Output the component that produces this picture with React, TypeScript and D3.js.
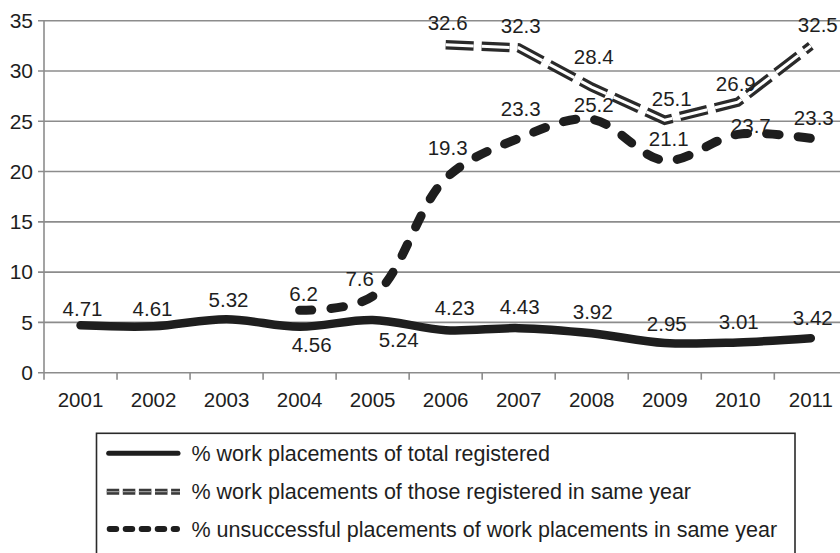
import React from "react";
import * as d3 from "d3";

// Years on the category axis
const years = ["2001", "2002", "2003", "2004", "2005", "2006", "2007", "2008", "2009", "2010", "2011"];

// % work placements of total registered
const totalRegistered = [4.71, 4.61, 5.32, 4.56, 5.24, 4.23, 4.43, 3.92, 2.95, 3.01, 3.42];

// % work placements of those registered in same year
const registeredSameYear: (number | null)[] = [null, null, null, null, null, 32.6, 32.3, 28.4, 25.1, 26.9, 32.5];

// % unsuccessful placements of work placements in same year
const unsuccessfulSameYear: (number | null)[] = [null, null, null, 6.2, 7.6, 19.3, 23.3, 25.2, 21.1, 23.7, 23.3];

const yTicks = [0, 5, 10, 15, 20, 25, 30, 35];

const seriesNames = [
  "% work placements of total registered",
  "% work placements of those registered in same year",
  "% unsuccessful placements of work placements in same year",
];

// Label placement (offset of the label centre from its point), per series
const totalLabelOffsets: [number, number][] = [
  [2, -17], [-1, -18], [2, -19], [12, 18], [26, 20], [9, -22], [1, -21], [1, -21], [2, -19], [1, -21], [2, -20],
];
const sameYearLabelOffsets: ([number, number] | null)[] = [
  null, null, null, null, null, [2, -22], [2, -22], [2, -30], [7, -21], [-2, -18], [7, -21],
];
const unsuccessfulLabelOffsets: ([number, number] | null)[] = [
  null, null, null, [4, -17], [-13, -17], [2, -31], [2, -30], [2, -14], [4, -22], [13, -9], [3, -21],
];

const W = 840;
const H = 553;
const FONT = "'Liberation Sans', Arial, Helvetica, sans-serif";
const INK = "#1e1e1e";
const GRID = "#8c8c8c";

export default function App() {
  const left = 44;
  const step = 73.03;
  const right = left + step * years.length;
  const top = 20.7;
  const bottom = 372.7;

  const x = d3.scaleBand<string>().domain(years).range([left, right]).padding(0);
  const y = d3.scaleLinear().domain([0, 35]).range([bottom, top]);
  const cx = (i: number) => (x(years[i]) as number) + x.bandwidth() / 2;

  const makeLine = (curve: d3.CurveFactory) =>
    d3
      .line<number | null>()
      .defined((d) => d != null)
      .x((_, i) => cx(i))
      .y((d) => y(d as number))
      .curve(curve);

  const smooth = makeLine(d3.curveCatmullRom.alpha(0.5));
  const straight = makeLine(d3.curveLinear);

  const pTotal = smooth(totalRegistered) || "";
  const pSame = straight(registeredSameYear) || "";
  const pUnsucc = smooth(unsuccessfulSameYear) || "";

  const labels: { key: string; x: number; y: number; text: string }[] = [];
  totalRegistered.forEach((v, i) => {
    const o = totalLabelOffsets[i];
    labels.push({ key: `t${i}`, x: cx(i) + o[0], y: y(v) + o[1], text: String(v) });
  });
  registeredSameYear.forEach((v, i) => {
    const o = sameYearLabelOffsets[i];
    if (v == null || !o) return;
    labels.push({ key: `s${i}`, x: cx(i) + o[0], y: y(v) + o[1], text: String(v) });
  });
  unsuccessfulSameYear.forEach((v, i) => {
    const o = unsuccessfulLabelOffsets[i];
    if (v == null || !o) return;
    labels.push({ key: `u${i}`, x: cx(i) + o[0], y: y(v) + o[1], text: String(v) });
  });

  const tickXs = d3.range(years.length + 1).map((i) => left + i * step);

  // legend
  const lgX = 96.5;
  const lgY = 433.3;
  const lgW = 698.5;
  const rows = [453.3, 491.7, 529];
  const sx0 = 106.7;
  const sx1 = 180;
  const tx = 191.5;

  return (
    <svg
      width={W}
      height={H}
      viewBox={`0 0 ${W} ${H}`}
      style={{ position: "absolute", left: 0, top: 0, background: "#fff", fontFamily: FONT }}
    >
      <rect x={0} y={0} width={W} height={H} fill="#fff" />

      {/* horizontal gridlines and y ticks */}
      {yTicks.map((t) => (
        <g key={t}>
          <line x1={left - 6} x2={W + 10} y1={y(t)} y2={y(t)} stroke={GRID} strokeWidth={1.6} />
          <text x={33} y={y(t)} dy="0.35em" textAnchor="end" fontSize={21} fill={INK}>
            {t}
          </text>
        </g>
      ))}

      {/* vertical axis */}
      <line x1={left} x2={left} y1={top} y2={bottom} stroke={GRID} strokeWidth={1.6} />

      {/* category ticks and labels */}
      {tickXs.map((tx0, i) => (
        <line key={`tk${i}`} x1={tx0} x2={tx0} y1={bottom} y2={bottom + 7} stroke={GRID} strokeWidth={1.6} />
      ))}
      {years.map((yr, i) => (
        <text key={yr} x={cx(i)} y={400} dy="0.35em" textAnchor="middle" fontSize={20.5} fill={INK}>
          {yr}
        </text>
      ))}

      {/* series: total registered */}
      <path d={pTotal} fill="none" stroke={INK} strokeWidth={8.5} strokeLinecap="round" strokeLinejoin="round" />

      {/* series: registered in same year (double dashed line) */}
      <path d={pSame} fill="none" stroke="#2a2a2a" strokeWidth={9.5} strokeDasharray="28 8" />
      <path d={pSame} fill="none" stroke="#fff" strokeWidth={3} strokeDasharray="28 8" />

      {/* series: unsuccessful placements (thick dashed line) */}
      <path
        d={pUnsucc}
        fill="none"
        stroke={INK}
        strokeWidth={9}
        strokeLinecap="round"
        strokeLinejoin="round"
        strokeDasharray="12.5 19"
      />

      {/* value labels */}
      {labels.map((l) => (
        <text key={l.key} x={l.x} y={l.y} dy="0.35em" textAnchor="middle" fontSize={20.5} fill={INK}>
          {l.text}
        </text>
      ))}

      {/* legend */}
      <rect x={lgX} y={lgY} width={lgW} height={140} fill="#fff" stroke="#2a2a2a" strokeWidth={1.6} />
      <line x1={sx0 + 2} x2={sx1 - 2} y1={rows[0]} y2={rows[0]} stroke={INK} strokeWidth={5} strokeLinecap="round" />
      <line x1={sx0} x2={sx1} y1={rows[1]} y2={rows[1]} stroke="#3a3a3a" strokeWidth={6} strokeDasharray="12.5 3.6" />
      <line x1={sx0} x2={sx1} y1={rows[1]} y2={rows[1]} stroke="#9a9a9a" strokeWidth={1.2} strokeDasharray="12.5 3.6" />
      <line
        x1={sx0 + 3}
        x2={sx1 - 3}
        y1={rows[2]}
        y2={rows[2]}
        stroke={INK}
        strokeWidth={6}
        strokeLinecap="round"
        strokeDasharray="6.5 9.5"
      />
      {seriesNames.map((n, i) => (
        <text key={n} x={tx} y={rows[i]} dy="0.35em" fontSize={21.5} fill={INK}>
          {n}
        </text>
      ))}
    </svg>
  );
}
